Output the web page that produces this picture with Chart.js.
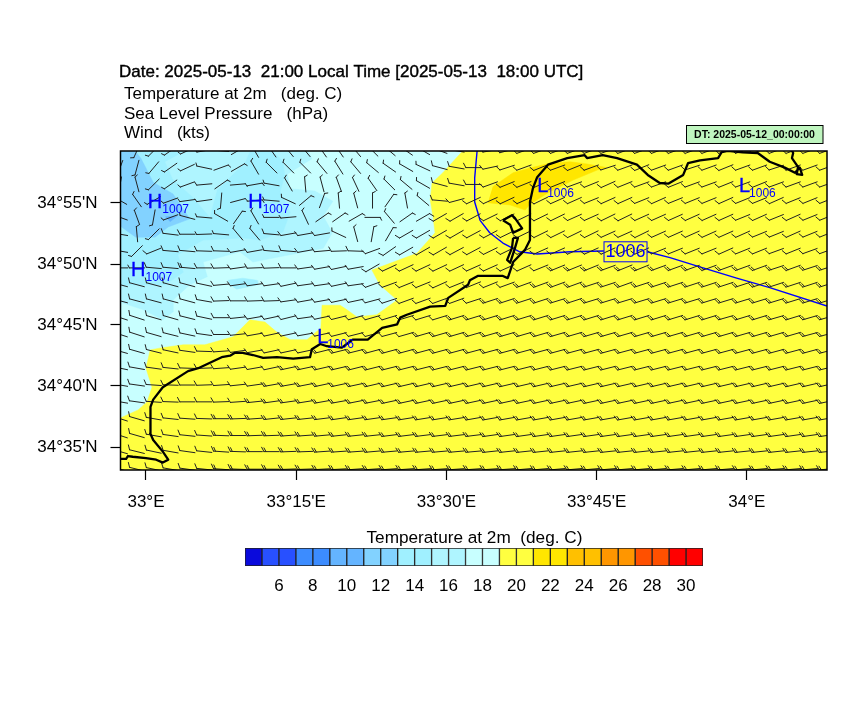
<!DOCTYPE html>
<html><head><meta charset="utf-8">
<style>html,body{margin:0;padding:0;background:#fff}#w{position:relative;width:864px;height:720px;overflow:hidden}canvas{position:absolute;display:block}</style>
<script src="https://cdn.jsdelivr.net/npm/chart.js@4"></script></head>
<body><div id="w"><canvas id="map" width="864" height="720" style="left:0;top:0"></canvas><canvas id="bar" width="490" height="70" style="left:230px;top:540px"></canvas></div>
<script>
const lonMin=32.9576,lonMax=34.1333,latMin=34.5519,latMax=34.9877;
const lonTicks=[33,33.25,33.5,33.75,34];
const lonTickLabels=["33°E","33°15'E","33°30'E","33°45'E","34°E"];
const latTicks=[34.5833,34.6667,34.75,34.8333,34.9167];
const latTickLabels=["34°35'N","34°40'N","34°45'N","34°50'N","34°55'N"];
// temperature shaded areas [lon,lat]
const shadeBase=[[32.9576,34.9877],[34.1333,34.9877],[34.1333,34.5519],[32.9576,34.5519]];
const shadeA=[[33.270,34.9877],[33.276,34.977],[33.235,34.956],[33.240,34.936],[33.281,34.933],[33.311,34.919],[33.295,34.899],[33.310,34.876],[33.295,34.855],[33.178,34.836],[33.156,34.850],[33.095,34.836],[33.102,34.816],[33.073,34.805],[33.045,34.784],[33.045,34.768],[33.028,34.757],[32.995,34.771],[32.9576,34.781],[32.9576,34.9877]];
const shadeABlob=[[33.136,34.811],[33.161,34.814],[33.185,34.811],[33.186,34.805],[33.151,34.799],[33.140,34.805]];
const shadeB=[[32.9576,34.9877],[33.211,34.9877],[33.228,34.973],[33.231,34.954],[33.223,34.932],[33.240,34.904],[33.228,34.877],[33.190,34.866],[33.161,34.869],[33.095,34.866],[33.053,34.846],[33.062,34.822],[33.032,34.805],[32.9576,34.805]];
const shadeWedge=[[33.065,34.9877],[33.173,34.9877],[33.165,34.973],[33.118,34.934],[33.106,34.898],[33.078,34.925],[33.045,34.949],[33.032,34.973]];
const shadeC=[[32.9576,34.9877],[32.982,34.9877],[32.992,34.977],[33.012,34.945],[33.045,34.929],[33.058,34.913],[33.073,34.895],[33.037,34.884],[33.015,34.870],[32.983,34.870],[32.9576,34.885]];
const shadeD=[[33.032,34.898],[33.052,34.899],[33.040,34.891]];
const shadeYellow=[[33.527,34.9877],[33.494,34.958],[33.476,34.944],[33.473,34.921],[33.478,34.896],[33.481,34.876],[33.451,34.848],[33.376,34.825],[33.389,34.805],[33.418,34.784],[33.384,34.764],[33.351,34.761],[33.334,34.771],[33.323,34.777],[33.293,34.777],[33.291,34.746],[33.268,34.730],[33.240,34.730],[33.218,34.740],[33.198,34.754],[33.173,34.757],[33.145,34.734],[33.098,34.723],[33.062,34.723],[33.027,34.719],[33.007,34.716],[33.000,34.691],[33.010,34.665],[33.002,34.645],[32.987,34.634],[32.9576,34.623],[32.9576,34.5519],[34.1333,34.5519],[34.1333,34.9877]];
const shadeGold=[[33.577,34.939],[33.611,34.958],[33.642,34.965],[33.672,34.971],[33.706,34.973],[33.734,34.970],[33.767,34.965],[33.752,34.962],[33.711,34.948],[33.672,34.932],[33.639,34.915],[33.631,34.907],[33.606,34.914],[33.569,34.917]];
// coast
const coast=[[32.957,34.567],[32.967,34.567],[32.970,34.571],[32.978,34.570],[33.000,34.568],[33.017,34.566],[33.028,34.562],[33.037,34.566],[33.028,34.577],[33.012,34.593],[33.007,34.602],[33.007,34.624],[33.008,34.638],[33.012,34.648],[33.028,34.665],[33.070,34.687],[33.087,34.691],[33.126,34.706],[33.140,34.708],[33.148,34.712],[33.161,34.712],[33.178,34.709],[33.195,34.705],[33.218,34.706],[33.245,34.704],[33.273,34.706],[33.276,34.717],[33.290,34.724],[33.301,34.721],[33.326,34.719],[33.344,34.730],[33.369,34.730],[33.393,34.746],[33.418,34.751],[33.423,34.760],[33.434,34.764],[33.473,34.775],[33.498,34.776],[33.503,34.787],[33.536,34.805],[33.539,34.811],[33.552,34.817],[33.594,34.817],[33.602,34.814],[33.611,34.836],[33.631,34.853],[33.639,34.866],[33.639,34.918],[33.644,34.937],[33.651,34.952],[33.669,34.969],[33.701,34.978],[33.730,34.982],[33.734,34.978],[33.760,34.982],[33.784,34.978],[33.817,34.969],[33.835,34.955],[33.855,34.944],[33.869,34.943],[33.894,34.955],[33.902,34.971],[33.922,34.975],[33.952,34.978],[33.958,34.986],[33.968,34.988],[33.993,34.986],[34.018,34.985],[34.038,34.973],[34.063,34.965],[34.080,34.958],[34.088,34.965],[34.092,34.955],[34.083,34.956],[34.085,34.966],[34.075,34.978],[34.077,34.985],[34.075,34.988]];
const lakeNorth=[[33.594,34.893],[33.609,34.900],[33.614,34.896],[33.626,34.882],[33.611,34.876],[33.606,34.887],[33.594,34.893]];
const lakeSouth=[[33.611,34.869],[33.619,34.869],[33.614,34.855],[33.606,34.835],[33.601,34.839],[33.609,34.855],[33.611,34.869]];
// SLP
const slpWest=[[33.551,34.9877],[33.547,34.951],[33.547,34.918],[33.556,34.893],[33.572,34.876],[33.594,34.862],[33.622,34.850],[33.651,34.847],[33.706,34.850],[33.762,34.851]];
const slpEast=[[33.834,34.850],[33.872,34.842],[33.927,34.828],[33.983,34.814],[34.038,34.801],[34.1333,34.776]];
const slpLabel={text:"1006",lon:33.798,lat:34.850};
const pressLetters=["H","H","H","L","L","L"];
const pressValues=["1007","1007","1007","1006","1006","1006"];
const pressLons=[33.003,33.170,32.975,33.651,33.987,33.285];
const pressLats=[34.910,34.910,34.817,34.932,34.932,34.725];
// wind grid
const windLons=[32.957,32.985,33.013,33.041,33.069,33.097,33.125,33.153,33.181,33.209,33.237,33.265,33.293,33.321,33.349,33.377,33.405,33.433,33.461,33.489,33.517,33.545,33.573,33.601,33.629,33.657,33.685,33.713,33.741,33.769,33.797,33.825,33.853,33.881,33.909,33.937,33.965,33.993,34.021,34.049,34.077,34.105,34.133];
const windLats=[34.988,34.965,34.942,34.920,34.897,34.874,34.851,34.828,34.805,34.783,34.760,34.737,34.714,34.691,34.668,34.645,34.622,34.599,34.577,34.553];
const windDir=[
[195,205,225,235,245,260,275,60,330,325,320,320,325,325,320,315,310,305,300,290,280,270,260,255,250,250,250,250,250,250,250,250,250,250,250,250,250,250,250,250,250,250,250],
[200,195,220,235,245,282,70,60,330,315,315,315,320,328,320,310,305,300,295,285,280,270,258,252,250,248,250,248,250,252,250,248,250,250,252,250,248,250,250,252,250,250,250],
[190,345,225,235,250,265,55,85,80,280,330,355,345,340,335,325,315,310,300,285,280,270,250,248,248,246,248,250,248,246,248,250,250,248,250,250,248,250,248,250,250,250,250],
[300,325,240,250,262,262,185,75,85,275,295,50,20,355,345,0,35,350,310,275,255,245,246,245,246,244,246,246,248,246,246,248,246,248,248,248,246,248,248,246,248,248,248],
[290,340,190,250,285,275,300,35,330,270,265,335,55,55,60,90,320,55,60,240,240,242,244,244,244,244,244,246,246,244,244,246,246,246,246,246,246,248,246,248,246,248,248],
[280,355,225,277,270,268,275,320,320,275,260,260,260,295,345,10,30,240,240,240,240,242,242,244,244,244,244,244,244,246,246,244,246,246,246,246,246,246,248,248,246,248,248],
[280,225,248,275,275,272,272,260,260,275,275,260,265,268,272,250,235,240,240,240,242,242,244,244,244,246,246,246,246,246,248,246,248,248,248,248,246,248,248,250,248,250,250],
[270,270,275,275,275,270,268,262,268,268,270,262,260,258,260,240,245,245,245,245,245,246,246,246,246,248,248,248,248,250,248,248,250,250,250,250,250,250,250,252,250,252,252],
[285,285,285,285,285,282,265,262,262,262,258,262,262,258,262,250,250,248,248,246,248,248,248,250,250,250,250,250,252,252,250,252,252,252,252,252,252,252,252,252,252,252,252],
[285,285,285,285,285,280,268,270,268,268,262,260,260,258,258,255,252,250,250,250,250,252,252,252,252,252,253,252,253,253,253,253,253,253,253,253,253,253,253,253,253,253,253],
[288,288,286,286,284,282,270,264,260,258,256,262,258,256,254,254,253,253,253,253,253,253,253,253,253,253,253,253,253,253,253,253,253,253,253,253,254,253,253,254,253,254,254],
[288,288,286,284,282,278,270,264,260,258,258,260,258,256,256,255,255,254,254,254,254,254,254,254,254,254,254,254,254,254,254,254,254,254,254,254,254,254,254,254,254,255,255],
[286,286,284,282,278,272,266,262,260,258,258,258,256,256,256,255,255,255,255,255,255,255,255,255,255,255,255,255,255,255,255,255,255,255,255,255,255,255,255,255,255,255,255],
[282,280,278,276,272,268,266,262,260,258,258,258,257,257,256,256,256,256,256,256,256,256,256,256,256,256,256,256,256,256,256,256,256,256,256,256,256,256,256,256,256,256,256],
[280,278,274,272,270,268,266,264,262,260,260,259,258,258,258,257,257,257,257,257,257,257,257,257,257,257,257,257,257,257,257,257,257,257,257,257,257,257,257,257,257,257,257],
[280,278,274,272,270,270,268,266,264,262,262,261,260,260,259,259,258,258,258,258,258,258,258,258,258,258,258,258,258,258,258,258,258,258,258,258,258,258,258,258,258,258,258],
[288,286,280,276,274,272,270,268,266,264,264,264,263,262,262,262,262,261,261,261,261,260,260,260,260,260,260,260,260,260,260,260,260,260,260,260,260,260,260,260,260,260,260],
[288,286,280,278,276,274,272,270,268,268,266,266,265,264,264,264,263,263,263,263,263,263,262,262,262,262,262,262,262,262,262,262,262,262,262,262,262,262,262,262,262,262,262],
[286,284,282,280,278,276,274,272,270,270,268,268,266,266,266,265,265,265,265,265,265,265,264,264,264,264,264,264,264,264,264,264,264,264,264,264,264,264,264,264,264,264,264],
[286,284,282,280,278,276,274,272,270,270,268,268,267,267,266,266,266,266,266,266,266,266,266,266,265,265,265,265,265,265,265,265,265,265,265,265,265,265,265,265,265,265,265]];
const windSpd=[
[5,5,5,5,5,5,5,5,5,5,5,5,5,5,5,5,5,5,5,10,10,10,10,10,10,10,10,10,10,10,10,10,10,10,10,10,10,10,10,10,10,10,10],
[5,5,5,5,5,5,5,5,5,5,5,5,5,5,5,5,5,5,5,10,10,10,10,10,10,10,10,10,10,10,10,10,10,10,10,10,10,10,10,10,10,10,10],
[5,5,5,5,5,5,5,5,5,5,5,5,5,5,5,5,5,5,5,10,10,10,10,10,10,10,10,10,10,10,10,10,10,10,10,10,10,10,10,10,10,10,10],
[5,5,5,5,5,5,5,5,5,5,5,5,5,5,5,5,5,5,5,10,10,10,10,10,10,10,10,10,10,10,10,10,10,10,10,10,10,10,10,10,10,10,10],
[5,5,5,5,5,5,5,5,5,5,5,5,5,5,5,5,5,5,10,10,10,10,10,10,10,10,10,10,10,10,10,10,10,10,10,10,10,10,10,10,10,10,10],
[5,5,5,10,10,5,5,5,5,10,10,10,10,5,5,5,5,10,10,10,10,10,10,10,10,10,10,10,10,10,10,10,10,10,10,10,10,10,10,10,10,10,10],
[5,5,10,10,10,10,10,10,10,10,10,10,10,10,10,10,10,10,10,10,10,10,10,10,10,10,10,10,10,10,10,10,10,10,10,10,10,10,10,10,10,10,10],
[5,5,10,10,15,10,10,10,10,10,10,10,10,10,10,10,10,10,10,10,10,10,10,10,10,10,15,15,15,15,15,15,15,15,15,15,15,15,15,15,15,15,15],
[10,10,10,10,10,10,10,10,10,10,10,10,10,10,10,10,10,10,10,10,10,10,10,10,15,15,15,15,15,15,15,15,15,15,15,15,15,15,15,15,15,15,15],
[10,10,10,10,10,10,10,10,10,10,10,10,10,10,10,10,10,10,10,10,10,10,15,15,15,15,15,15,15,15,15,15,15,15,15,15,15,15,15,15,15,15,15],
[10,10,10,10,10,10,10,10,10,10,10,10,10,10,10,10,10,10,10,10,15,15,15,15,15,15,15,15,15,15,15,15,15,15,15,15,15,15,15,15,15,15,15],
[10,10,10,10,10,10,10,10,10,10,10,10,10,10,10,10,10,10,15,15,15,15,15,15,15,15,15,15,15,15,15,15,15,15,15,15,15,15,15,15,15,15,15],
[10,10,10,10,10,10,10,10,10,10,10,10,15,15,15,15,15,15,15,15,15,15,15,15,15,15,15,15,15,15,15,15,15,15,15,15,15,15,15,15,15,15,15],
[10,10,10,10,10,10,10,10,10,10,15,15,15,15,15,15,15,15,15,15,15,15,15,15,15,15,15,15,15,15,15,15,15,15,15,15,15,15,15,15,15,15,15],
[10,10,10,10,10,10,10,10,10,15,15,15,15,15,15,15,15,15,15,15,15,15,15,15,15,15,15,15,15,15,15,15,15,15,15,15,15,15,15,15,15,15,15],
[10,10,10,10,10,10,10,10,15,15,15,15,15,15,15,15,15,15,15,15,15,15,15,15,15,15,15,15,15,15,15,15,15,15,15,15,15,15,15,15,15,15,15],
[10,10,10,10,10,10,15,15,15,15,15,15,15,15,15,15,15,15,15,15,15,15,15,15,15,15,15,15,15,15,15,15,15,15,15,15,15,15,15,15,15,15,15],
[10,10,10,10,10,10,15,15,15,15,15,15,15,15,15,15,15,15,15,15,15,15,15,15,15,15,15,15,15,15,15,15,15,15,15,15,15,15,15,15,15,15,15],
[10,10,10,10,10,10,15,15,15,15,15,15,15,15,15,15,15,15,15,15,15,15,15,15,15,15,15,15,15,15,15,15,15,15,15,15,15,15,15,15,15,15,15],
[10,10,10,10,10,10,15,15,15,15,15,15,15,15,15,15,15,15,15,15,15,15,15,15,15,15,15,15,15,15,15,15,15,15,15,15,15,15,15,15,15,15,15]];
// colour bar
const barLevels=[4,5,6,7,8,9,10,11,12,13,14,15,16,17,18,19,20,21,22,23,24,25,26,27,28,29,30,31];
const barColors=["#0A0ADC","#2850FF","#2850FF","#3C8CFF","#3C8CFF","#64B4FF","#64B4FF","#82D2FF","#82D2FF","#A0F0FF","#A0F0FF","#AFF5FF","#AFF5FF","#C8FFFF","#C8FFFF","#FFFF40","#FFFF40","#FFE600","#FFE600","#FFC000","#FFC000","#FF9600","#FF9600","#FF5000","#FF5000","#FF0000","#FF0000"];
const SANS='"Liberation Sans"';
const pageTexts=[
 {t:"Date: 2025-05-13  21:00 Local Time [2025-05-13  18:00 UTC]",x:119,y:76.5,f:'17px '+SANS,heavy:true},
 {t:"Temperature at 2m   (deg. C)",x:124,y:99,f:'17px '+SANS},
 {t:"Sea Level Pressure   (hPa)",x:124,y:118.5,f:'17px '+SANS},
 {t:"Wind   (kts)",x:124,y:137.5,f:'17px '+SANS},
 {t:"Temperature at 2m  (deg. C)",x:366.5,y:543,f:'17.2px '+SANS}
];
const dtText="DT: 2025-05-12_00:00:00";

function pts(a){return a.map(p=>({x:p[0],y:p[1]}));}
function area(a,c,o){return {type:'scatter',showLine:true,data:pts(a),backgroundColor:c,borderColor:c,borderWidth:0.5,pointRadius:0,fill:'shape',tension:0,order:o};}
function curve(a,c,w,o){return {type:'scatter',showLine:true,data:pts(a),borderColor:c,borderWidth:w,pointRadius:0,fill:false,tension:0,order:o,borderJoinStyle:'round'};}
function windData(){
  const d=[];
  windLats.forEach((la,r)=>windLons.forEach((lo,j)=>d.push({x:lo,y:la,d:windDir[r][j],s:windSpd[r][j]})));
  return d;
}
const barbPlugin={id:'barbs',afterDatasetDraw(ch,args){
  const ds=ch.data.datasets[args.index];
  if(!ds.isWind)return;
  const g=ch.ctx,A=ch.chartArea,L=7.6;
  g.save();g.beginPath();g.rect(A.left,A.top,A.right-A.left,A.bottom-A.top);g.clip();
  g.strokeStyle='#222';g.lineWidth=1;g.lineCap='round';
  args.meta.data.forEach((el,i)=>{
    const v=ds.data[i],t=v.d*Math.PI/180,ux=Math.sin(t),uy=-Math.cos(t),px=-uy,py=ux;
    const tipX=el.x+ux*L,tipY=el.y+uy*L;
    g.beginPath();g.moveTo(el.x-ux*L,el.y-uy*L);g.lineTo(tipX,tipY);
    const tick=(back,len)=>{const bx=tipX-ux*back,by=tipY-uy*back;g.moveTo(bx,by);g.lineTo(bx+(px*0.883+ux*0.469)*len,by+(py*0.883+uy*0.469)*len);};
    if(v.s===5)tick(0,3.2);
    if(v.s>=10)tick(0,5);
    if(v.s===15)tick(2,4.2);
    g.stroke();
  });
  g.restore();
}};
const labelPlugin={id:'labels',afterDatasetsDraw(ch){
  const g=ch.ctx,X=ch.scales.x,Y=ch.scales.y,A=ch.chartArea;
  g.save();
  g.strokeStyle='#000';g.lineWidth=1.5;g.strokeRect(A.left,A.top,A.right-A.left,A.bottom-A.top);
  g.fillStyle='#0000FF';g.textBaseline='alphabetic';g.textAlign='left';
  pressLetters.forEach((l,i)=>{
    const x=X.getPixelForValue(pressLons[i]),y=Y.getPixelForValue(pressLats[i]);
    g.font='20px '+SANS;g.fillText(l,x,y);
    g.lineWidth=0.35;g.strokeStyle='#0000FF';g.strokeText(l,x,y);
    g.font='12px '+SANS;g.fillText(pressValues[i],x+(l==='H'?14.5:10),y+5);
  });
  const cx=X.getPixelForValue(slpLabel.lon),cy=Y.getPixelForValue(slpLabel.lat);
  g.lineWidth=1;g.strokeStyle='#0000FF';g.strokeRect(cx-21.5,cy-10,43,20);
  g.textAlign='center';g.textBaseline='middle';g.font='18px '+SANS;g.fillText(slpLabel.text,cx,cy+0.5);
  g.textBaseline='alphabetic';g.textAlign='left';g.fillStyle='#000';
  pageTexts.forEach(t=>{g.font=t.f;g.fillText(t.t,t.x,t.y);
    if(t.heavy){g.lineWidth=0.4;g.strokeStyle='#000';g.strokeText(t.t,t.x,t.y);}});
  g.fillStyle='#BFF5BF';g.fillRect(686,125,137,18);g.strokeStyle='#000';g.lineWidth=1;g.strokeRect(686.5,125.5,136.5,18);
  g.fillStyle='#000';g.font='bold 10.5px '+SANS;g.textAlign='center';g.textBaseline='middle';g.fillText(dtText,754.5,134.8);
  g.restore();
}};
new Chart(document.getElementById('map'),{
  type:'scatter',
  data:{datasets:[
    area(shadeBase,'#C8FFFF',90),area(shadeA,'#AFF5FF',80),area(shadeABlob,'#A0F0FF',79),area(shadeB,'#A0F0FF',78),
    area(shadeWedge,'#AFF5FF',77),area(shadeC,'#82D2FF',76),area(shadeD,'#64B4FF',75),area(shadeYellow,'#FFFF40',74),area(shadeGold,'#FFE600',73),
    curve(slpWest,'#0000FF',1.4,6),curve(slpEast,'#0000FF',1.4,6),
    {type:'scatter',data:windData(),isWind:true,showLine:false,pointRadius:0,order:5},
    curve(coast,'#000',2.3,2),curve(lakeNorth,'#000',2.3,2),curve(lakeSouth,'#000',2.3,2)
  ]},
  options:{responsive:false,animation:false,devicePixelRatio:1,events:[],
    layout:{padding:{left:0,top:151,right:37,bottom:200}},
    plugins:{legend:{display:false},tooltip:{enabled:false}},
    scales:{
      x:{type:'linear',min:lonMin,max:lonMax,afterFit:s=>{s.height=50;},
        afterBuildTicks:s=>{s.ticks=lonTicks.map(v=>({value:v}));},
        grid:{drawOnChartArea:false,drawTicks:true,tickLength:10,tickWidth:1.2,tickColor:'#000'},border:{display:false},
        ticks:{autoSkip:false,maxRotation:0,padding:12,color:'#000',font:{family:'Liberation Sans',size:17},callback:v=>lonTickLabels[lonTicks.indexOf(v)]}},
      y:{type:'linear',min:latMin,max:latMax,afterFit:s=>{s.width=120.5;},
        afterBuildTicks:s=>{s.ticks=latTicks.map(v=>({value:v}));},
        grid:{drawOnChartArea:false,drawTicks:true,tickLength:10,tickWidth:1.2,tickColor:'#000'},border:{display:false},
        ticks:{autoSkip:false,padding:13,color:'#000',font:{family:'Liberation Sans',size:17},callback:v=>latTickLabels[latTicks.indexOf(v)]}}
    }
  },
  plugins:[barbPlugin,labelPlugin]
});
new Chart(document.getElementById('bar'),{
  type:'bar',
  data:{labels:[''],datasets:barColors.map((c,i)=>({data:[[barLevels[i],barLevels[i+1]]],backgroundColor:c,borderColor:'#222',borderWidth:1,borderSkipped:false,grouped:false,barPercentage:1,categoryPercentage:1}))},
  options:{indexAxis:'y',responsive:false,animation:false,devicePixelRatio:1,events:[],
    layout:{padding:{left:15,right:17,top:8,bottom:0}},
    plugins:{legend:{display:false},tooltip:{enabled:false}},
    scales:{
      y:{display:false},
      x:{type:'linear',min:4,max:31,afterFit:s=>{s.height=44;},
        afterBuildTicks:s=>{s.ticks=barLevels.filter(v=>v>=6&&v<=30&&v%2===0).map(v=>({value:v}));},
        grid:{display:false},border:{display:false},
        ticks:{autoSkip:false,maxRotation:0,padding:2,color:'#000',font:{family:'Liberation Sans',size:17}}}
    }
  }
});
</script></body></html>
